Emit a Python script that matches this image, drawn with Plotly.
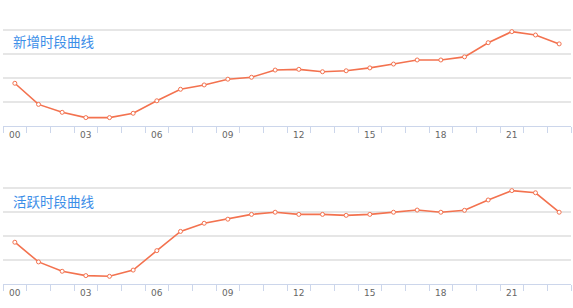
import plotly.graph_objects as go
from plotly.subplots import make_subplots

hours = list(range(24))
tick_hours = [0, 3, 6, 9, 12, 15, 18, 21]
tick_labels = ["00", "03", "06", "09", "12", "15", "18", "21"]

new_users = [1.78, 0.90, 0.57, 0.35, 0.35, 0.53, 1.05, 1.53, 1.71, 1.95, 2.03, 2.33,
             2.36, 2.26, 2.30, 2.42, 2.58, 2.75, 2.75, 2.88, 3.47, 3.93, 3.79, 3.42]
active_users = [1.74, 0.92, 0.53, 0.35, 0.32, 0.58, 1.39, 2.19, 2.53, 2.70, 2.90, 2.99,
                2.90, 2.90, 2.86, 2.90, 2.99, 3.08, 2.99, 3.07, 3.50, 3.89, 3.80, 2.99]

titles = ["新增时段曲线", "活跃时段曲线"]

LINE = "#f3724f"
H, W = 308, 573
top_px, bottom_px = 5, 284
ph = bottom_px - top_px

fig = make_subplots(rows=2, cols=1, vertical_spacing=0)
for r, vals in enumerate([new_users, active_users], start=1):
    fig.add_trace(go.Scatter(x=hours, y=vals, mode="lines+markers",
                             line=dict(color=LINE, width=1.6),
                             marker=dict(size=4, color="white", line=dict(color=LINE, width=1)),
                             showlegend=False, hoverinfo="skip"), row=r, col=1)

d1 = [(bottom_px - 126) / ph, 1.0]
d2 = [0.0, (bottom_px - 163) / ph]

xcommon = dict(range=[-0.5, 23.5], tickmode="array", tickvals=tick_hours, ticktext=tick_labels,
               ticks="", showgrid=False, zeroline=False, showline=True, linecolor="#ccd6eb",
               linewidth=1, tickfont=dict(size=9, color="#666666", family="DejaVu Sans"),
               minor=dict(ticks="outside", tick0=-0.5, dtick=1, ticklen=6, tickcolor="#ccd6eb",
                          tickwidth=1, showgrid=False))
ycommon = dict(range=[0, 5.04], tickmode="array", tickvals=[1, 2, 3, 4, 5],
               showticklabels=False, showgrid=True, gridcolor="#e6e6e6",
               gridwidth=2, zeroline=False, showline=False, ticks="")

fig.update_layout(
    width=W, height=H, margin=dict(l=3, r=2, t=top_px, b=H - bottom_px),
    paper_bgcolor="white", plot_bgcolor="white",
    xaxis=dict(domain=[0, 1], anchor="y", **xcommon),
    xaxis2=dict(domain=[0, 1], anchor="y2", **xcommon),
    yaxis=dict(domain=d1, anchor="x", **ycommon),
    yaxis2=dict(domain=d2, anchor="x2", **ycommon),
)

for title, cy in zip(titles, [41, 200.5]):
    fig.add_annotation(text=title, xref="paper", yref="paper",
                       x=(11 - 3) / (W - 5), y=(bottom_px - cy) / ph,
                       xanchor="left", yanchor="middle", showarrow=False,
                       font=dict(size=13.5, color="#3b8ee8", family="Noto Sans CJK SC"))

fig.write_html("out.html")
